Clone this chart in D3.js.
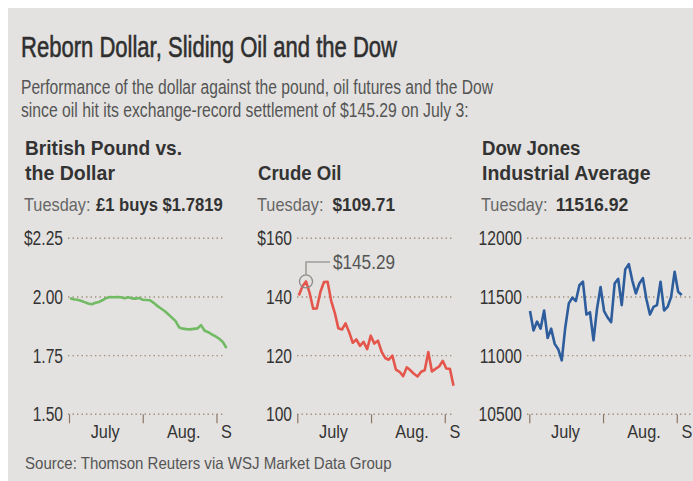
<!DOCTYPE html>
<html>
<head>
<meta charset="utf-8">
<script src="https://cdn.jsdelivr.net/npm/d3@7"></script>
<style>
  body { margin: 0; background: #fff; }
  svg text { font-family: "Liberation Sans", Arial, sans-serif; }
</style>
</head>
<body>
<script>
// Data: trading days from July 1 to Sept 2, 2008
const tradingDays = [
  '2008-07-01','2008-07-02','2008-07-03','2008-07-07','2008-07-08','2008-07-09','2008-07-10','2008-07-11',
  '2008-07-14','2008-07-15','2008-07-16','2008-07-17','2008-07-18','2008-07-21','2008-07-22','2008-07-23',
  '2008-07-24','2008-07-25','2008-07-28','2008-07-29','2008-07-30','2008-07-31','2008-08-01','2008-08-04',
  '2008-08-05','2008-08-06','2008-08-07','2008-08-08','2008-08-11','2008-08-12','2008-08-13','2008-08-14',
  '2008-08-15','2008-08-18','2008-08-19','2008-08-20','2008-08-21','2008-08-22','2008-08-25','2008-08-26',
  '2008-08-27','2008-08-28','2008-08-29','2008-09-02'
];

// British pound in dollars
const poundValues = [
  1.995, 1.990, 1.988, 1.984, 1.978, 1.972, 1.969, 1.975, 1.979, 1.987, 1.996, 2.000, 1.999, 2.000, 1.999,
  1.995, 1.999, 1.994, 1.993, 1.996, 1.988, 1.987, 1.986, 1.975, 1.962, 1.951, 1.940, 1.926, 1.912, 1.897,
  1.870, 1.865, 1.863, 1.862, 1.864, 1.866, 1.880, 1.856, 1.850, 1.840, 1.832, 1.822, 1.808, 1.782
];

// Crude oil, $ a barrel
const oilValues = [
  140.5, 143.6, 145.29, 141.4, 136.0, 136.1, 141.7, 145.1, 145.2, 138.7, 134.6, 129.3, 128.9, 131.0, 128.0,
  124.4, 125.5, 123.3, 124.7, 122.2, 126.8, 124.1, 125.1, 121.4, 119.2, 118.6, 120.0, 115.2, 114.5, 113.0,
  116.0, 115.0, 113.8, 112.9, 114.5, 115.0, 121.2, 114.6, 115.5, 116.3, 118.2, 115.6, 115.5, 109.71
];

// Dow Jones Industrial Average
const dowValues = [
  11380, 11215, 11290, 11230, 11385, 11150, 11230, 11100, 11055, 10960, 11240, 11445, 11495, 11465, 11600,
  11630, 11350, 11370, 11130, 11400, 11585, 11380, 11325, 11285, 11615, 11655, 11430, 11735, 11780, 11640,
  11530, 11615, 11660, 11480, 11350, 11415, 11430, 11630, 11385, 11415, 11500, 11715, 11545, 11517
];

// y ticks and their labels
const poundTicks = [1.50, 1.75, 2.00, 2.25];
const poundTickLabels = ['1.50', '1.75', '2.00', '$2.25'];
const oilTicks = [100, 120, 140, 160];
const oilTickLabels = ['100', '120', '140', '$160'];
const dowTicks = [10500, 11000, 11500, 12000];
const dowTickLabels = ['10500', '11000', '11500', '12000'];

// x axis: month ticks and labels
const monthTicks = ['2008-07-01', '2008-08-01', '2008-09-01'];
const monthLabelDates = ['2008-07-16', '2008-08-18', '2008-09-05'];
const monthLabels = ['July', 'Aug.', 'S'];
const xDomain = ['2008-07-01', '2008-09-05'];

const parseDate = d3.timeParse('%Y-%m-%d');

// 版面設定
const svg_width = 693;
const svg_height = 481;
const yBottom = 414.3;
const yTop = 238.3;

const svg = d3.select('body').append('svg')
  .attr('width', svg_width).attr('height', svg_height);

svg.append('rect')
  .attr('x', 8).attr('y', 8)
  .attr('width', svg_width - 8).attr('height', svg_height - 8)
  .attr('fill', '#e3e2e0');

// text helpers: the original uses a condensed face, so squeeze glyphs to fit
function addText(x, y, str, size, fill, width, weight) {
  const t = svg.append('text')
    .attr('x', x).attr('y', y)
    .attr('font-size', size)
    .attr('fill', fill)
    .attr('font-weight', weight || 'normal')
    .text(str);
  if (width) t.attr('textLength', width).attr('lengthAdjust', 'spacingAndGlyphs');
  return t;
}
// several lines in one text element (lines = [[str, y, width], ...])
function addLines(x, lines, size, fill, weight) {
  const t = svg.append('text')
    .attr('font-size', size)
    .attr('fill', fill)
    .attr('font-weight', weight || 'normal');
  lines.forEach(l => {
    t.append('tspan')
      .attr('x', x).attr('y', l[1])
      .attr('textLength', l[2]).attr('lengthAdjust', 'spacingAndGlyphs')
      .text(l[0]);
  });
  return t;
}
function condense(sel, k) {
  sel.each(function () {
    const w = this.getComputedTextLength();
    d3.select(this).attr('textLength', w * k).attr('lengthAdjust', 'spacingAndGlyphs');
  });
}

// title is a bit heavier than regular weight
addText(21, 57, 'Reborn Dollar, Sliding Oil and the Dow', 30, '#2f2f2f', 376)
  .attr('stroke', '#2f2f2f').attr('stroke-width', 0.6);
addLines(21, [
  ['Performance of the dollar against the pound, oil futures and the Dow', 94, 472],
  ['since oil hit its exchange-record settlement of $145.29 on July 3:', 116.5, 447.5]
], 19.5, '#555');
addText(25, 469, 'Source: Thomson Reuters via WSJ Market Data Group', 16.5, '#555', 366.5);

const panels = [
  {
    title: [['British Pound vs.', 155, 157], ['the Dollar', 179.5, 90]],
    value: '£1 buys $1.7819', valueX: 96, valueW: 126.7,
    values: poundValues, ticks: poundTicks, tickLabels: poundTickLabels,
    color: '#72bb64',
    textX: 25, labelX: 63, plotX: 69, gridX: [68, 223], lineX: [70, 226.5]
  },
  {
    title: [['Crude Oil', 179.5, 83.5]],
    value: '$109.71', valueX: 332.5, valueW: 62.5,
    values: oilValues, ticks: oilTicks, tickLabels: oilTickLabels,
    color: '#e4564c',
    textX: 258, labelX: 292, plotX: 297.3, gridX: [297, 453.5], lineX: [298.8, 453.5],
    peak: '$145.29'
  },
  {
    title: [['Dow Jones', 155, 98.5], ['Industrial Average', 179.5, 168.5]],
    value: '11516.92', valueX: 555.7, valueW: 72.6,
    values: dowValues, ticks: dowTicks, tickLabels: dowTickLabels,
    color: '#2d5d9d',
    textX: 482, labelX: 522, plotX: 529.3, gridX: [527, 700], lineX: [530, 681.7]
  }
];

panels.forEach(p => {
  const g = svg.append('g');

  // titles
  addLines(p.textX, p.title, 21, '#333', 'bold');

  addText(p.textX - 1, 210.5, 'Tuesday:', 19, '#666', 66.5);
  addText(p.valueX, 210.5, p.value, 19, '#333', p.valueW, 'bold');

  // scales
  const yScale = d3.scaleLinear([p.ticks[0], p.ticks[p.ticks.length - 1]], [yBottom, yTop]);
  const xTime = d3.scaleTime(xDomain.map(parseDate), [p.plotX, p.plotX + 157]);
  const xLine = d3.scalePoint(tradingDays, p.lineX);

  // 格線 (dotted)
  g.selectAll('.grid').data(p.ticks).join('line')
    .attr('class', 'grid')
    .attr('x1', p.gridX[0]).attr('x2', p.gridX[1])
    .attr('y1', d => yScale(d)).attr('y2', d => yScale(d))
    .attr('stroke', '#a28f7c')
    .attr('stroke-width', 1.4)
    .attr('stroke-dasharray', '1.4,3.1');

  // y labels
  g.selectAll('.ylab').data(p.ticks).join('text')
    .attr('class', 'ylab')
    .attr('x', p.labelX).attr('y', d => yScale(d))
    .attr('dy', '0.36em')
    .attr('text-anchor', 'end')
    .attr('font-size', 19.5)
    .attr('fill', '#333')
    .text((d, i) => p.tickLabels[i])
    .call(condense, 0.8);

  // month ticks
  const xAxis = d3.axisBottom(xTime)
    .tickValues(monthTicks.map(parseDate))
    .tickSizeInner(9).tickSizeOuter(0)
    .tickFormat('');
  g.append('g')
    .attr('transform', `translate(0,${yBottom})`)
    .call(xAxis)
    .call(a => a.select('.domain').remove())
    .selectAll('line').attr('stroke', '#8a7664').attr('stroke-width', 1.2);

  // month labels
  const labelAxis = d3.axisBottom(xTime)
    .tickValues(monthLabelDates.map(parseDate))
    .tickSize(0).tickPadding(11)
    .tickFormat((d, i) => monthLabels[i]);
  g.append('g')
    .attr('transform', `translate(0,${yBottom})`)
    .call(labelAxis)
    .attr('font-size', 18.5)
    .attr('color', '#333')
    .call(a => a.select('.domain').remove())
    .selectAll('text').call(condense, 0.88);

  // line
  const line = d3.line()
    .x((d, i) => xLine(tradingDays[i]))
    .y(d => yScale(d));
  g.append('path')
    .datum(p.values)
    .attr('d', line)
    .attr('fill', 'none')
    .attr('stroke', p.color)
    .attr('stroke-width', 2.6)
    .attr('stroke-linejoin', 'round');

  // peak annotation
  if (p.peak) {
    const maxV = d3.max(p.values);
    const iMax = p.values.indexOf(maxV);
    const cx = xLine(tradingDays[iMax]);
    const cy = yScale(maxV);
    const r = 6.5;
    g.append('circle')
      .attr('cx', cx).attr('cy', cy).attr('r', r)
      .attr('fill', 'none').attr('stroke', '#8c8a86').attr('stroke-width', 1.3);
    g.append('path')
      .attr('d', `M${cx},${cy - r}V262H${cx + 24}`)
      .attr('fill', 'none').attr('stroke', '#a09d98').attr('stroke-width', 1.6);
    g.append('text')
      .attr('x', cx + 27).attr('y', 262).attr('dy', '0.36em')
      .attr('font-size', 19.5).attr('fill', '#555')
      .attr('textLength', 62).attr('lengthAdjust', 'spacingAndGlyphs')
      .text(p.peak);
  }
});
</script>
</body>
</html>
